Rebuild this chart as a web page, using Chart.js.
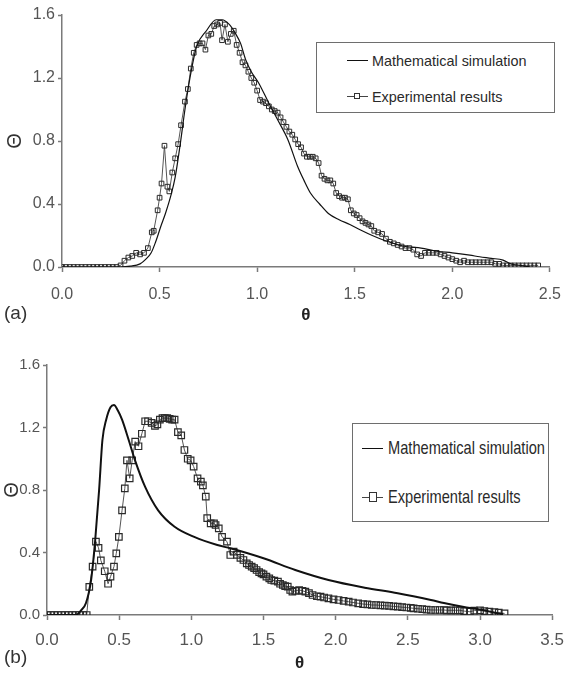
<!DOCTYPE html>
<html>
<head>
<meta charset="utf-8">
<script src="https://cdn.jsdelivr.net/npm/chart.js@4.4.1/dist/chart.umd.min.js"></script>
<style>
  html, body { margin: 0; padding: 0; background: #fff; }
  #page { position: relative; width: 574px; height: 675px; overflow: hidden; font-family: "Liberation Sans", Arial, sans-serif; }
  canvas { position: absolute; left: 0; }
  .legend { position: absolute; border: 1.5px solid #6e6e6e; background: #fff; box-sizing: border-box; }
  .row { position: absolute; left: 0; height: 20px; }
  .sample { position: absolute; top: 50%; height: 0; border-top: 1.2px solid #111; }
  .mk { position: absolute; border: 1px solid #333; background: #fff; box-sizing: border-box; }
  .txt { position: absolute; top: 50%; white-space: nowrap; transform-origin: left center; color: #2a2a2a; }
  .panel { position: absolute; font-size: 19px; color: #333; }
</style>
</head>
<body>
<div id="page">
  <canvas id="ca" width="574" height="330" style="top:0px"></canvas>
  <canvas id="cb" width="574" height="345" style="top:330px"></canvas>

  <div class="legend" style="left:316px; top:42px; width:239px; height:71px;">
    <div class="row" style="top:7px; width:239px;">
      <div class="sample" style="left:30px; width:21px;"></div>
      <div class="txt" id="la1" style="left:55px; font-size:15px; transform: translateY(-50%) scaleX(0.96);"></div>
    </div>
    <div class="row" style="top:43px; width:239px;">
      <div class="sample" style="left:30px; width:21px; border-top-color:#444; border-top-width:1px;"></div>
      <div class="mk" style="left:37px; top:7px; width:6px; height:6px;"></div>
      <div class="txt" id="la2" style="left:55px; font-size:15px; transform: translateY(-50%) scaleX(0.96);"></div>
    </div>
  </div>

  <div class="legend" style="left:352px; top:423px; width:197px; height:99px;">
    <div class="row" style="top:14px; width:197px;">
      <div class="sample" style="left:9px; width:21px; border-top-width:1px;"></div>
      <div class="txt" id="lb1" style="left:35px; font-size:19px; transform: translateY(-50%) scaleX(0.77);"></div>
    </div>
    <div class="row" style="top:63px; width:197px;">
      <div class="sample" style="left:9px; width:21px; border-top-color:#444; border-top-width:1px;"></div>
      <div class="mk" style="left:16px; top:5px; width:8px; height:10px;"></div>
      <div class="txt" id="lb2" style="left:35px; font-size:19px; transform: translateY(-50%) scaleX(0.77);"></div>
    </div>
  </div>

  <div class="panel" style="left:4px; top:302px;">(a)</div>
  <div class="panel" style="left:4px; top:646px;">(b)</div>
</div>

<script>
// ---------------- data ----------------
const legendLabels = ["Mathematical simulation", "Experimental results"];
const xAxisTitle = "θ";
const yAxisTitle = "Θ";

// panel (a)
const xTicksA = [0, 0.5, 1.0, 1.5, 2.0, 2.5];
const yTicksA = [0, 0.4, 0.8, 1.2, 1.6];
const simAx = [0, 0.1, 0.2, 0.3, 0.35, 0.4, 0.43, 0.457, 0.48, 0.507, 0.53, 0.557, 0.58, 0.607, 0.63, 0.657, 0.69, 0.74, 0.79, 0.82, 0.857, 0.89, 0.915, 0.94, 0.97, 1.007, 1.06, 1.107, 1.157, 1.207, 1.24, 1.273, 1.32, 1.365, 1.42, 1.475, 1.53, 1.59, 1.65, 1.76, 1.84, 1.92, 2.0, 2.09, 2.14, 2.2, 2.26, 2.3, 2.35, 2.4];
const simAy = [0, 0, 0, 0, 0.005, 0.02, 0.05, 0.09, 0.16, 0.26, 0.34, 0.45, 0.57, 0.79, 1.0, 1.21, 1.40, 1.50, 1.57, 1.57, 1.54, 1.48, 1.42, 1.32, 1.24, 1.17, 1.04, 0.93, 0.81, 0.64, 0.55, 0.47, 0.40, 0.34, 0.30, 0.27, 0.235, 0.20, 0.17, 0.13, 0.12, 0.10, 0.09, 0.075, 0.065, 0.055, 0.044, 0.02, 0.01, 0];
const expAx = [0, 0.02, 0.04, 0.06, 0.08, 0.10, 0.12, 0.14, 0.16, 0.18, 0.20, 0.22, 0.24, 0.26, 0.28, 0.30, 0.32, 0.34, 0.36, 0.38, 0.40, 0.42, 0.44, 0.46, 0.47, 0.49, 0.50, 0.51, 0.525, 0.54, 0.55, 0.565, 0.58, 0.595, 0.61, 0.63, 0.645, 0.66, 0.675, 0.69, 0.705, 0.72, 0.735, 0.75, 0.765, 0.78, 0.795, 0.81, 0.82, 0.835, 0.85, 0.865, 0.88, 0.895, 0.91, 0.925, 0.94, 0.955, 0.97, 0.985, 1.00, 1.015, 1.03, 1.045, 1.06, 1.075, 1.09, 1.105, 1.12, 1.135, 1.15, 1.165, 1.18, 1.195, 1.21, 1.225, 1.24, 1.255, 1.27, 1.285, 1.30, 1.315, 1.33, 1.345, 1.36, 1.375, 1.39, 1.405, 1.42, 1.435, 1.45, 1.465, 1.48, 1.495, 1.51, 1.525, 1.54, 1.555, 1.57, 1.585, 1.60, 1.62, 1.64, 1.66, 1.68, 1.70, 1.72, 1.74, 1.76, 1.78, 1.80, 1.82, 1.84, 1.86, 1.88, 1.90, 1.92, 1.94, 1.96, 1.98, 2.00, 2.02, 2.04, 2.06, 2.08, 2.10, 2.12, 2.14, 2.16, 2.18, 2.20, 2.22, 2.24, 2.26, 2.28, 2.30, 2.32, 2.34, 2.36, 2.38, 2.40, 2.42, 2.44];
const expAy = [0, 0, 0, 0, 0, 0, 0, 0, 0, 0, 0, 0, 0, 0, 0, 0.01, 0.04, 0.06, 0.07, 0.09, 0.08, 0.09, 0.12, 0.22, 0.23, 0.36, 0.44, 0.53, 0.77, 0.51, 0.48, 0.60, 0.69, 0.78, 0.90, 1.05, 1.13, 1.26, 1.36, 1.41, 1.42, 1.42, 1.38, 1.47, 1.48, 1.53, 1.54, 1.55, 1.44, 1.54, 1.43, 1.48, 1.50, 1.41, 1.36, 1.30, 1.28, 1.24, 1.20, 1.17, 1.12, 1.06, 1.05, 1.04, 1.02, 1.00, 0.99, 0.98, 0.95, 0.92, 0.89, 0.86, 0.84, 0.81, 0.78, 0.76, 0.72, 0.70, 0.70, 0.70, 0.69, 0.66, 0.58, 0.56, 0.55, 0.55, 0.53, 0.47, 0.45, 0.44, 0.44, 0.43, 0.36, 0.34, 0.33, 0.31, 0.29, 0.28, 0.27, 0.26, 0.23, 0.22, 0.21, 0.18, 0.16, 0.15, 0.14, 0.13, 0.12, 0.12, 0.11, 0.08, 0.07, 0.09, 0.09, 0.09, 0.09, 0.08, 0.07, 0.06, 0.05, 0.04, 0.03, 0.04, 0.03, 0.03, 0.03, 0.03, 0.03, 0.03, 0.03, 0.02, 0.02, 0.01, 0.01, 0.01, 0.01, 0.01, 0.01, 0.01, 0.01, 0.01, 0.01];

// panel (b)
const xTicksB = [0, 0.5, 1.0, 1.5, 2.0, 2.5, 3.0, 3.5];
const yTicksB = [0, 0.4, 0.8, 1.2, 1.6];
const simBx = [0, 0.1, 0.2, 0.236, 0.27, 0.305, 0.334, 0.361, 0.384, 0.41, 0.44, 0.464, 0.49, 0.52, 0.566, 0.61, 0.68, 0.77, 0.884, 1.02, 1.18, 1.27, 1.50, 1.72, 1.95, 2.20, 2.43, 2.66, 2.75, 2.88, 3.02, 3.1, 3.16];
const simBy = [0, 0, 0, 0.03, 0.077, 0.22, 0.48, 0.80, 1.12, 1.25, 1.33, 1.344, 1.31, 1.25, 1.12, 0.99, 0.82, 0.67, 0.565, 0.50, 0.448, 0.427, 0.363, 0.288, 0.224, 0.175, 0.139, 0.096, 0.077, 0.053, 0.032, 0.015, 0.005];
const expBx = [0, 0.025, 0.05, 0.075, 0.1, 0.125, 0.15, 0.175, 0.2, 0.225, 0.25, 0.275, 0.293, 0.316, 0.339, 0.357, 0.373, 0.40, 0.423, 0.44, 0.464, 0.48, 0.498, 0.52, 0.539, 0.554, 0.573, 0.59, 0.611, 0.634, 0.657, 0.68, 0.70, 0.725, 0.748, 0.765, 0.782, 0.80, 0.816, 0.833, 0.85, 0.867, 0.884, 0.907, 0.93, 0.952, 0.975, 0.995, 1.016, 1.043, 1.066, 1.08, 1.10, 1.11, 1.134, 1.157, 1.168, 1.19, 1.213, 1.247, 1.27, 1.293, 1.316, 1.34, 1.361, 1.384, 1.40, 1.418, 1.435, 1.452, 1.47, 1.486, 1.50, 1.52, 1.54, 1.554, 1.575, 1.60, 1.615, 1.634, 1.65, 1.668, 1.685, 1.70, 1.72, 1.747, 1.77, 1.79, 1.815, 1.84, 1.87, 1.895, 1.92, 1.95, 1.985, 2.02, 2.055, 2.09, 2.12, 2.156, 2.19, 2.22, 2.25, 2.28, 2.31, 2.34, 2.37, 2.40, 2.43, 2.46, 2.49, 2.52, 2.54, 2.57, 2.60, 2.63, 2.66, 2.69, 2.72, 2.75, 2.77, 2.80, 2.83, 2.86, 2.89, 2.93, 2.96, 3.0, 3.03, 3.065, 3.10, 3.13, 3.17];
const expBy = [0, 0, 0, 0, 0, 0, 0, 0, 0, 0, 0, 0, 0.18, 0.31, 0.47, 0.43, 0.35, 0.28, 0.20, 0.245, 0.31, 0.395, 0.50, 0.67, 0.81, 0.99, 0.875, 0.99, 1.11, 1.08, 1.16, 1.24, 1.24, 1.23, 1.21, 1.22, 1.25, 1.26, 1.26, 1.26, 1.255, 1.25, 1.25, 1.17, 1.15, 1.056, 1.00, 0.99, 0.95, 0.875, 0.853, 0.83, 0.757, 0.62, 0.587, 0.587, 0.576, 0.555, 0.50, 0.47, 0.384, 0.405, 0.385, 0.365, 0.352, 0.33, 0.32, 0.31, 0.30, 0.288, 0.275, 0.267, 0.26, 0.245, 0.235, 0.224, 0.22, 0.213, 0.20, 0.192, 0.185, 0.181, 0.16, 0.149, 0.155, 0.16, 0.155, 0.149, 0.14, 0.128, 0.12, 0.117, 0.112, 0.107, 0.10, 0.096, 0.09, 0.085, 0.08, 0.075, 0.07, 0.068, 0.064, 0.064, 0.062, 0.06, 0.058, 0.055, 0.053, 0.05, 0.048, 0.045, 0.043, 0.04, 0.038, 0.035, 0.032, 0.032, 0.032, 0.032, 0.03, 0.03, 0.03, 0.03, 0.025, 0.021, 0.028, 0.03, 0.025, 0.021, 0.018, 0.015, 0.01];

// ---------------- helpers ----------------
document.getElementById('la1').textContent = legendLabels[0];
document.getElementById('la2').textContent = legendLabels[1];
document.getElementById('lb1').textContent = legendLabels[0];
document.getElementById('lb2').textContent = legendLabels[1];

const FONT = '"Liberation Sans", Arial, sans-serif';
const pts = (xs, ys) => xs.map((x, i) => ({ x: x, y: ys[i] }));
const AXIS = '#7a7a7a';

function makeChart(id, cfg) {
  const ticksFix = (arr) => function (scale) {
    scale.ticks = arr.map(v => ({ value: v }));
  };
  return new Chart(document.getElementById(id), {
    type: 'line',
    data: {
      datasets: [
        {
          label: legendLabels[0],
          data: pts(cfg.simX, cfg.simY),
          borderColor: '#111',
          borderWidth: cfg.simWidth,
          pointRadius: 0,
          cubicInterpolationMode: 'monotone',
          fill: false,
          order: 1
        },
        {
          label: legendLabels[1],
          data: pts(cfg.expX, cfg.expY),
          borderColor: '#555',
          borderWidth: 1,
          pointStyle: 'rect',
          pointRadius: cfg.markR,
          pointBorderColor: '#2a2a2a',
          pointBorderWidth: cfg.markW,
          pointBackgroundColor: 'rgba(255,255,255,0)',
          tension: 0,
          fill: false,
          order: 2
        }
      ]
    },
    options: {
      responsive: false,
      animation: false,
      events: [],
      layout: { padding: { top: cfg.padTop, right: 13, left: 0, bottom: 0 } },
      plugins: { legend: { display: false }, tooltip: { enabled: false } },
      scales: {
        x: {
          type: 'linear',
          min: cfg.xTicks[0],
          max: cfg.xTicks[cfg.xTicks.length - 1],
          afterBuildTicks: ticksFix(cfg.xTicks),
          afterFit: (s) => { s.height = cfg.xH; },
          grid: { drawOnChartArea: false, drawTicks: true, tickLength: 5, tickWidth: 1.5, tickColor: AXIS },
          border: { display: true, color: AXIS, width: 1.5 },
          ticks: {
            color: '#555',
            font: { family: FONT, size: cfg.xFont },
            padding: cfg.xPad,
            maxRotation: 0,
            autoSkip: false,
            callback: (v) => Number(v).toFixed(1)
          },
          title: {
            display: true,
            text: xAxisTitle,
            color: '#222',
            font: { family: FONT, size: 17, weight: 'bold' },
            padding: { top: 0, bottom: cfg.xTitlePad }
          }
        },
        y: {
          type: 'linear',
          min: 0,
          max: 1.6,
          afterBuildTicks: ticksFix(cfg.yTicks),
          afterFit: (s) => { s.width = cfg.yW; },
          grid: { drawOnChartArea: false, drawTicks: true, tickLength: 4, tickWidth: 1.5, tickColor: AXIS },
          border: { display: true, color: AXIS, width: 1.5 },
          ticks: {
            color: '#555',
            font: { family: FONT, size: cfg.yFont },
            padding: 3,
            autoSkip: false,
            callback: (v) => Number(v).toFixed(1)
          },
          title: {
            display: true,
            text: yAxisTitle,
            color: '#333',
            font: { family: FONT, size: 20 },
            padding: { top: cfg.yTitlePad, bottom: 0 }
          }
        }
      }
    }
  });
}

makeChart('ca', {
  simX: simAx, simY: simAy, expX: expAx, expY: expAy,
  xTicks: xTicksA, yTicks: yTicksA,
  simWidth: 1.2, markR: 3.3, markW: 1,
  padTop: 15, xH: 63, yW: 62,
  xFont: 16, yFont: 16, xPad: 13, xTitlePad: 4, yTitlePad: 3
});

makeChart('cb', {
  simX: simBx, simY: simBy, expX: expBx, expY: expBy,
  xTicks: xTicksB, yTicks: yTicksB,
  simWidth: 2, markR: 4.6, markW: 1.2,
  padTop: 35, xH: 60, yW: 47,
  xFont: 17, yFont: 15, xPad: 10, xTitlePad: 1, yTitlePad: 0
});
</script>
</body>
</html>
